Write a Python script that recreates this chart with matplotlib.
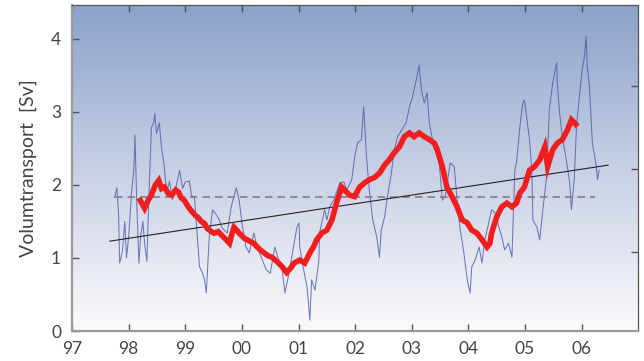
import numpy as np
import matplotlib
matplotlib.use("Agg")
import matplotlib.pyplot as plt
from matplotlib.colors import LinearSegmentedColormap

plt.rcParams['font.family'] = ['Lato', 'DejaVu Sans']

# ---------------- data ----------------
x_tick_years = [1997, 1998, 1999, 2000, 2001, 2002, 2003, 2004, 2005, 2006]
x_tick_labels = ['97', '98', '99', '00', '01', '02', '03', '04', '05', '06']
y_ticks = [0, 1, 2, 3, 4]

raw_t = [1997.75, 1997.79, 1997.82, 1997.84, 1997.89, 1997.93, 1997.96, 1998.00, 1998.05, 1998.09,
         1998.11, 1998.14, 1998.18, 1998.21, 1998.25, 1998.28, 1998.32, 1998.35, 1998.40, 1998.44,
         1998.46, 1998.49, 1998.54, 1998.58, 1998.62, 1998.67, 1998.72, 1998.77, 1998.83, 1998.90,
         1998.95, 1999.00, 1999.07, 1999.11, 1999.16, 1999.20, 1999.25, 1999.30, 1999.34, 1999.37,
         1999.42, 1999.48, 1999.55, 1999.60, 1999.65, 1999.74, 1999.81, 1999.90, 1999.95, 2000.00,
         2000.07, 2000.13, 2000.21, 2000.27, 2000.34, 2000.43, 2000.50, 2000.58, 2000.65, 2000.71,
         2000.76, 2000.83, 2000.92, 2000.97, 2001.01, 2001.02, 2001.09, 2001.15, 2001.20, 2001.23,
         2001.29, 2001.36, 2001.37, 2001.46, 2001.50, 2001.55, 2001.62, 2001.73, 2001.80, 2001.85,
         2001.94, 2001.99, 2002.04, 2002.11, 2002.15, 2002.17, 2002.20, 2002.25, 2002.31, 2002.38,
         2002.43, 2002.46, 2002.52, 2002.57, 2002.64, 2002.69, 2002.75, 2002.82, 2002.90, 2002.96,
         2003.01, 2003.08, 2003.13, 2003.17, 2003.22, 2003.27, 2003.31, 2003.40, 2003.43, 2003.48,
         2003.54, 2003.59, 2003.68, 2003.75, 2003.80, 2003.85, 2003.92, 2003.98, 2004.03, 2004.06,
         2004.12, 2004.19, 2004.24, 2004.29, 2004.36, 2004.41, 2004.47, 2004.54, 2004.59, 2004.64,
         2004.71, 2004.77, 2004.82, 2004.85, 2004.91, 2004.96, 2004.99, 2005.05, 2005.08, 2005.12,
         2005.14, 2005.21, 2005.26, 2005.31, 2005.38, 2005.43, 2005.49, 2005.56, 2005.57, 2005.61,
         2005.66, 2005.73, 2005.79, 2005.82, 2005.87, 2005.91, 2005.96, 2006.01, 2006.05, 2006.08,
         2006.10, 2006.14, 2006.17, 2006.19, 2006.22, 2006.26, 2006.28, 2006.31]
raw_sv = [1.83, 1.96, 1.60, 0.93, 1.10, 1.50, 1.00, 1.30, 1.90, 2.20,
          2.68, 1.80, 0.93, 1.30, 1.50, 1.20, 0.95, 1.70, 2.78, 2.85,
          2.98, 2.70, 2.85, 2.50, 2.30, 1.90, 2.05, 1.80, 1.95, 2.20,
          1.95, 2.04, 2.05, 1.85, 1.84, 1.42, 0.88, 0.80, 0.70, 0.52,
          1.25, 1.66, 1.59, 1.52, 1.41, 1.34, 1.70, 1.96, 1.79, 1.48,
          1.15, 1.07, 1.34, 1.15, 1.01, 0.84, 0.79, 1.15, 0.97, 0.84,
          0.52, 0.79, 1.20, 1.42, 1.48, 1.15, 0.84, 0.60, 0.15, 0.70,
          0.56, 0.97, 1.34, 1.66, 1.52, 1.70, 1.79, 2.03, 2.04, 1.93,
          2.07, 2.38, 2.57, 2.62, 3.07, 2.80, 2.38, 1.93, 1.52, 1.29,
          1.01, 1.38, 1.56, 1.84, 2.16, 2.48, 2.66, 2.75, 2.85, 3.07,
          3.20, 3.44, 3.64, 3.30, 3.12, 3.26, 2.85, 2.48, 2.57, 2.34,
          1.79, 1.84, 2.30, 2.25, 1.79, 1.42, 1.07, 0.70, 0.52, 0.88,
          0.97, 1.15, 0.93, 1.25, 1.48, 1.66, 1.62, 1.42, 1.29, 1.11,
          1.20, 1.01, 2.20, 2.30, 2.80, 3.12, 3.16, 2.80, 2.62, 2.20,
          1.52, 1.42, 1.25, 1.62, 2.10, 3.03, 3.40, 3.67, 3.40, 2.99,
          2.66, 2.34, 2.03, 1.66, 2.07, 2.80, 3.20, 3.58, 3.75, 4.03,
          3.62, 3.34, 2.89, 2.57, 2.44, 2.25, 2.07, 2.20]

smooth_t = [1998.18, 1998.23, 1998.28, 1998.35, 1998.40, 1998.47, 1998.53, 1998.58, 1998.63, 1998.70,
            1998.76, 1998.83, 1998.88, 1998.93, 1998.98, 1999.05, 1999.11, 1999.18, 1999.23, 1999.28,
            1999.34, 1999.39, 1999.46, 1999.51, 1999.58, 1999.63, 1999.72, 1999.78, 1999.83, 1999.86,
            1999.92, 1999.95, 2000.04, 2000.11, 2000.16, 2000.21, 2000.27, 2000.34, 2000.39, 2000.46,
            2000.53, 2000.62, 2000.71, 2000.79, 2000.86, 2000.92, 2001.02, 2001.11, 2001.20, 2001.27,
            2001.32, 2001.41, 2001.50, 2001.59, 2001.67, 2001.76, 2001.85, 2001.90, 2001.99, 2002.08,
            2002.17, 2002.25, 2002.34, 2002.43, 2002.52, 2002.60, 2002.69, 2002.78, 2002.87, 2002.96,
            2003.04, 2003.13, 2003.22, 2003.31, 2003.40, 2003.45, 2003.54, 2003.62, 2003.71, 2003.80,
            2003.89, 2003.98, 2004.06, 2004.15, 2004.24, 2004.33, 2004.38, 2004.41, 2004.50, 2004.59,
            2004.68, 2004.77, 2004.85, 2004.91, 2004.99, 2005.08, 2005.17, 2005.26, 2005.35, 2005.40,
            2005.49, 2005.57, 2005.66, 2005.75, 2005.82, 2005.87, 2005.93]
smooth_sv = [1.82, 1.75, 1.68, 1.80, 1.86, 2.00, 2.06, 1.95, 1.97, 1.88,
             1.86, 1.93, 1.90, 1.82, 1.79, 1.70, 1.64, 1.58, 1.55, 1.50,
             1.47, 1.40, 1.36, 1.34, 1.36, 1.32, 1.25, 1.20, 1.35, 1.42,
             1.37, 1.34, 1.27, 1.24, 1.22, 1.20, 1.15, 1.10, 1.07, 1.03,
             1.01, 0.95, 0.88, 0.80, 0.86, 0.93, 0.97, 0.93, 1.07, 1.16,
             1.25, 1.34, 1.38, 1.52, 1.75, 1.97, 1.90, 1.86, 1.84, 1.97,
             2.03, 2.07, 2.10, 2.16, 2.27, 2.34, 2.44, 2.52, 2.66, 2.71,
             2.66, 2.71, 2.66, 2.62, 2.57, 2.48, 2.25, 1.97, 1.84, 1.70,
             1.52, 1.48, 1.38, 1.34, 1.25, 1.15, 1.20, 1.34, 1.56, 1.70,
             1.75, 1.70, 1.75, 1.89, 1.97, 2.20, 2.25, 2.34, 2.52, 2.25,
             2.48, 2.57, 2.62, 2.75, 2.89, 2.85, 2.80]

mean_t = [1997.75, 2006.23]
mean_sv = [1.83, 1.83]
trend_t = [1997.67, 2006.47]
trend_sv = [1.23, 2.27]

# ---------------- figure ----------------
fig = plt.figure(figsize=(6.44, 3.61), dpi=100)
ax = fig.add_axes([0.112, 0.083, 0.879, 0.903])

xmin, xmax, ymin, ymax = 1997.0, 2007.0, 0.0, 4.46
ax.set_xlim(xmin, xmax)
ax.set_ylim(ymin, ymax)

# vertical gradient background
cmap = LinearSegmentedColormap.from_list(
    'bg', [(0.0, '#fbfbfd'), (0.25, '#e2e5f0'), (0.55, '#c2cbe2'), (1.0, '#8aa2c9')])
grad = np.linspace(0, 1, 256).reshape(-1, 1)
ax.imshow(grad, extent=[xmin, xmax, ymin, ymax], origin='lower', aspect='auto',
          cmap=cmap, zorder=0, interpolation='bicubic')

ax.plot(raw_t, raw_sv, color='#4f5aa8', lw=0.75, alpha=0.8, zorder=2)
ax.plot(mean_t, mean_sv, color='#7f7f86', lw=1.2, dashes=(4.5, 3), zorder=3)
ax.plot(trend_t, trend_sv, color='#222222', lw=0.8, zorder=3)
ax.plot(smooth_t, smooth_sv, color='#f01e1e', lw=4.0, solid_joinstyle='miter',
        solid_capstyle='butt', zorder=4)

ax.set_xticks(x_tick_years)
ax.set_xticklabels(x_tick_labels)
ax.set_yticks(y_ticks)
ax.tick_params(axis='both', direction='in', length=5, width=1, color='#555555',
               labelsize=12.5, labelcolor='#444444', top=True)
ax.tick_params(axis='x', pad=7)
ax.tick_params(axis='y', pad=8)

for side in ['left', 'bottom']:
    ax.spines[side].set_color('#999999')
    ax.spines[side].set_linewidth(1.6)
for side in ['top', 'right']:
    ax.spines[side].set_color('#555555')
    ax.spines[side].set_linewidth(0.9)

ax.set_ylabel('Volumtransport  [Sv]', fontsize=14, color='#444444', labelpad=10)

# secondary (unlabelled) right-hand scale
ax2 = ax.twinx()
ax2.set_ylim(0, 326)
ax2.set_yticks([79, 162, 245])
ax2.set_yticklabels([])
ax2.tick_params(axis='y', direction='in', length=5, width=1, color='#555555')
for s in ax2.spines.values():
    s.set_visible(False)

fig.savefig('out.png', dpi=100)
